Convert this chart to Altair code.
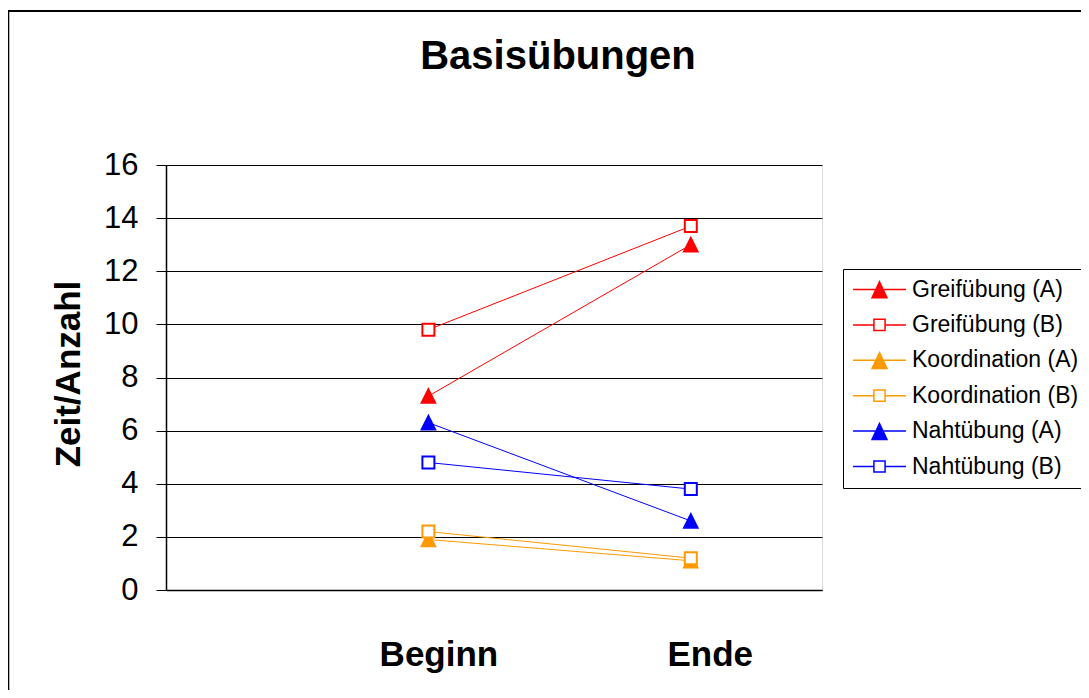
import altair as alt
import pandas as pd

categories = ["Beginn", "Ende"]
series_names = ["Greifübung (A)", "Greifübung (B)", "Koordination (A)",
                "Koordination (B)", "Nahtübung (A)", "Nahtübung (B)"]
greif_a = [7.3, 13.0]
greif_b = [9.8, 13.7]
koord_a = [1.9, 1.1]
koord_b = [2.2, 1.2]
naht_a = [6.3, 2.6]
naht_b = [4.8, 3.8]
series_values = [greif_a, greif_b, koord_a, koord_b, naht_a, naht_b]
y_ticks = [0, 2, 4, 6, 8, 10, 12, 14, 16]

colors = ["#FF0000", "#FF0000", "#FF9900", "#FF9900", "#0000FF", "#0000FF"]
fills = ["#FF0000", "#FFFFFF", "#FF9900", "#FFFFFF", "#0000FF", "#FFFFFF"]

TRI = "M0,-0.9L0.9,0.9L-0.9,0.9Z"
SQ = "M-0.8,-0.8H0.8V0.8H-0.8Z"
TRI_LEG = "M-2.94,0H2.94M0,-0.85L0.83,0.92L-0.83,0.92Z"
SQ_LEG = "M-2.94,0H-0.62M0.62,0H2.94M-0.62,-0.62H0.62V0.62H-0.62Z"
point_paths = [TRI, SQ, TRI, SQ, TRI, SQ]
legend_paths = [TRI_LEG, SQ_LEG, TRI_LEG, SQ_LEG, TRI_LEG, SQ_LEG]

rows = []
for s, vals in zip(series_names, series_values):
    for i, (c, v) in enumerate(zip(categories, vals)):
        rows.append({"series": s, "category": c, "pos": i + 1, "value": v})
df = pd.DataFrame(rows)

label_expr = " : ".join(
    [f"datum.value == {i + 1} ? '{c}'" for i, c in enumerate(categories)]
) + " : ''"

FONT = "Liberation Sans"

x_enc = alt.X(
    "pos:Q",
    scale=alt.Scale(domain=[0, 2.5], nice=False, zero=False),
    axis=alt.Axis(
        values=[1, 2], labelExpr=label_expr, ticks=False, tickSize=0, grid=False,
        domainColor="#000000", domainWidth=1.5, labelFont=FONT, labelFontSize=35,
        labelFontWeight="bold", labelColor="#000000", labelPadding=75,
        labelBaseline="alphabetic",
        labelOffset={"condition": {"test": "datum.value == 1", "value": 10}, "value": 19},
        title=None,
    ),
)
y_enc = alt.Y(
    "value:Q",
    scale=alt.Scale(domain=[0, 16], nice=False, zero=True),
    axis=alt.Axis(
        values=y_ticks, tickSize=10, tickColor="#000000", domainColor="#000000",
        domainWidth=1.5, gridColor="#000000", gridWidth=1, labelFont=FONT,
        labelFontSize=31, labelColor="#000000", labelPadding=18,
        title="Zeit/Anzahl", titleFont=FONT, titleFontSize=35, titleFontWeight="bold",
        titleColor="#000000", titleX=-87, titleY=208.5, titleBaseline="alphabetic",
        titleAlign="center",
    ),
)

frame = alt.Chart(pd.DataFrame({"f": [0]})).mark_rect(
    fill="transparent", stroke="#000000", strokeWidth=2
).encode(
    x=alt.value(-157.7), y=alt.value(-154), x2=alt.value(2000), y2=alt.value(2000)
)

lines = alt.Chart(df).mark_line(strokeWidth=1).encode(
    x=x_enc, y=y_enc,
    stroke=alt.Stroke("series:N", scale=alt.Scale(domain=series_names, range=colors), legend=None),
)

points = alt.Chart(df).mark_point(filled=False, size=225, strokeWidth=2, opacity=1).encode(
    x=x_enc, y=y_enc,
    stroke=alt.Stroke("series:N", scale=alt.Scale(domain=series_names, range=colors), legend=None),
    fill=alt.Fill("series:N", scale=alt.Scale(domain=series_names, range=fills), legend=None),
    shape=alt.Shape("series:N", scale=alt.Scale(domain=series_names, range=point_paths), legend=None),
)

def leg():
    return alt.Legend(
        orient="none", legendX=677, legendY=104, title=None, padding=9,
        rowPadding=11.4, symbolSize=324, symbolStrokeWidth=1.5, symbolOffset=16,
        labelOffset=21, labelFont=FONT, labelFontSize=23, labelColor="#000000",
        labelLimit=400, strokeColor="#000000", fillColor="#FFFFFF",
    )

legend_layer = alt.Chart(df).transform_filter("false").mark_point(
    filled=False, size=324, strokeWidth=1.5, opacity=1
).encode(
    x=x_enc, y=y_enc,
    stroke=alt.Stroke("series:N", scale=alt.Scale(domain=series_names, range=colors), legend=leg()),
    fill=alt.Fill("series:N", scale=alt.Scale(domain=series_names, range=fills), legend=leg()),
    shape=alt.Shape("series:N", scale=alt.Scale(domain=series_names, range=legend_paths), legend=leg()),
)

chart = alt.layer(frame, lines, points, legend_layer).resolve_scale(
    stroke="independent", fill="independent", shape="independent"
).properties(
    width=656, height=425,
    padding={"left": 158, "top": 157, "right": 259, "bottom": 100},
    autosize=alt.AutoSizeParams(type="none"),
    title=alt.TitleParams(
        "Basisübungen", font=FONT, fontSize=40, fontWeight="bold", color="#000000",
        anchor="middle", dx=64, offset=-99, baseline="alphabetic",
    ),
).configure_view(stroke="#808080", strokeWidth=1.5).configure(background="#FFFFFF")

chart.save("out.html", embed_options={"renderer": "svg", "actions": False})
